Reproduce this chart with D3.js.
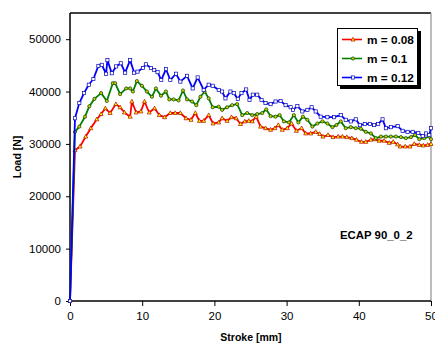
<!DOCTYPE html>
<html><head><meta charset="utf-8">
<script src="https://cdn.jsdelivr.net/npm/d3@7"></script>
<style>body{margin:0;background:#fff}svg{display:block}text{font-family:Arial,"Liberation Sans",sans-serif}</style>
</head><body><svg id="c" width="435" height="345"></svg>
<script>
const xTicks=[0,10,20,30,40,50];
const yTicks=[0,10000,20000,30000,40000,50000];
const seriesNames=["m = 0.08","m = 0.1","m = 0.12"];
const strokeA=[0,0.69,1.39,2.18,2.88,3.71,4.31,4.90,5.56,6.35,6.94,7.54,8.33,8.57,9.17,9.82,10.32,10.97,11.71,12.36,13.10,13.89,14.58,15.28,16.07,16.76,17.36,17.92,18.51,19.21,19.82,20.60,21.07,21.76,22.36,23.01,23.61,24.21,24.76,25.24,25.79,26.39,27.08,27.78,28.38,28.85,29.40,30.10,30.69,31.35,32.08,32.64,33.33,34.03,34.58,35.04,35.74,36.43,37.13,37.74,38.33,39.03,39.68,40.38,40.97,41.67,42.26,42.82,43.51,44.21,44.76,45.38,45.74,46.43,47.08,47.68,48.38,48.93,49.54,50.0];
const loadA=[0,28.8,29.5,31.4,33.0,34.7,35.7,36.8,35.9,37.6,37.0,36.0,35.2,38.1,36.0,36.2,38.1,36.0,36.8,35.5,35.1,35.9,35.9,35.9,34.9,34.6,35.9,34.4,34.4,35.5,33.9,34.1,34.9,34.4,35.1,34.9,33.8,34.3,34.4,34.3,35.2,33.3,33.0,32.7,33.0,33.6,32.7,33.0,33.9,32.5,33.0,32.0,32.0,32.3,31.9,31.4,31.7,31.3,31.4,31.4,31.3,31.1,30.8,30.4,30.4,30.8,30.9,30.6,30.6,30.2,30.4,29.9,29.5,29.5,29.5,30.0,29.8,29.7,29.8,30.0];
const strokeB=[0,0.69,1.29,2.08,2.68,3.38,4.31,5.10,5.93,6.25,6.94,7.78,8.33,8.71,9.26,9.96,10.65,11.35,11.90,12.60,13.29,13.75,14.35,15.04,15.65,16.21,16.90,17.50,18.06,18.65,19.21,19.76,20.60,21.07,21.76,22.46,23.15,23.85,24.54,25.24,25.93,26.63,27.18,27.78,28.47,29.03,29.63,30.32,31.01,31.63,32.26,32.88,33.57,34.26,34.96,35.65,36.35,36.90,37.50,38.19,38.89,39.58,40.28,40.97,41.67,42.36,43.06,43.75,44.44,45.14,45.83,46.53,47.22,47.78,48.38,49.07,49.76,50.0];
const loadB=[0,32.3,33.3,35.2,37.2,38.6,39.7,38.2,41.6,41.6,39.5,40.6,40.6,40.0,42.0,41.1,40.0,39.0,40.6,39.2,40.0,38.5,38.5,38.3,40.2,38.5,38.1,37.4,39.0,40.0,38.7,37.0,37.1,36.5,37.0,37.4,37.6,35.5,35.9,35.5,35.7,35.9,36.6,35.3,35.2,35.5,34.3,34.1,35.5,34.1,35.2,34.6,33.3,33.9,34.3,33.9,33.2,33.6,34.3,33.0,33.2,33.0,32.9,32.3,32.0,31.1,31.4,31.4,31.4,31.4,31.3,31.1,31.3,31.7,30.9,31.1,31.4,30.9];
const strokeC=[0,0.69,1.29,1.94,2.60,3.24,3.93,4.40,5.00,5.18,5.79,6.39,7.04,7.64,8.33,8.89,9.35,10.10,10.51,11.21,11.67,12.13,12.64,13.29,13.89,14.68,15.28,16.21,16.99,17.68,18.51,19.21,19.76,20.60,21.07,21.53,22.22,22.68,23.24,23.75,24.40,24.86,25.32,25.93,26.53,27.08,27.78,28.47,29.17,29.86,30.56,30.88,31.49,32.18,32.88,33.47,34.03,34.72,35.65,36.57,37.50,38.19,38.89,39.58,40.14,40.83,41.53,42.13,42.68,43.29,43.75,44.44,45.38,46.07,46.76,47.46,48.24,48.85,49.31,49.76,50.0];
const loadC=[0,34.9,37.8,39.7,41.3,42.4,44.9,45.1,43.4,46.0,43.5,44.8,45.4,43.6,46.0,43.6,43.8,44.5,45.2,44.5,44.1,43.7,42.2,44.3,42.2,43.4,41.9,43.0,40.6,42.7,40.3,41.3,41.1,40.3,40.0,38.7,40.0,39.7,38.6,39.7,40.4,38.4,39.4,39.4,38.4,37.8,37.6,38.1,38.2,37.4,37.0,36.5,37.2,36.2,36.5,37.0,36.2,35.2,35.1,35.1,35.5,34.6,34.3,34.7,33.6,33.8,33.8,33.6,33.8,34.7,33.0,33.2,33.4,32.5,32.3,32.3,32.1,31.5,32.0,31.7,33.0];

const svg=d3.select("#c");
const L=70,R=431,T=13,B=301;
const x=d3.scaleLinear().domain([0,50]).range([L,R]);
const y=d3.scaleLinear().domain([0,55000]).range([B,T]);

svg.append("line").attr("x1",L).attr("x2",R).attr("y1",T).attr("y2",T).attr("stroke","#000").attr("stroke-width",1.3);
svg.append("line").attr("x1",R).attr("x2",R).attr("y1",T).attr("y2",B).attr("stroke","#999").attr("stroke-width",1.3);

const gx=svg.append("g").attr("transform",`translate(0,${B})`)
  .call(d3.axisBottom(x).tickValues(xTicks).tickFormat(d3.format("d")).tickSize(5).tickPadding(6).tickSizeOuter(0));
const gy=svg.append("g").attr("transform",`translate(${L},0)`)
  .call(d3.axisLeft(y).tickValues(yTicks).tickFormat(d3.format("d")).tickSize(4).tickPadding(5).tickSizeOuter(0));
[gx,gy].forEach(g=>{g.select(".domain").attr("stroke","#000").attr("stroke-width",1.5);
  g.selectAll(".tick line").attr("stroke","#000");
  g.selectAll("text").attr("font-size","11.5px").attr("fill","#000").attr("font-family","Arial,'Liberation Sans',sans-serif");});
gy.select(".domain").attr("d",`M0,${T}V${B}`);
gx.select(".domain").attr("d",`M${L},0H${R}`);

const series=[
 {name:seriesNames[0],xs:strokeA,ys:loadA,color:"#ff0000",fill:"#ffff00",stroke:"#b00000",sym:"tri"},
 {name:seriesNames[1],xs:strokeB,ys:loadB,color:"#008000",fill:"#cccc00",stroke:"#004000",sym:"circ"},
 {name:seriesNames[2],xs:strokeC,ys:loadC,color:"#0000ff",fill:"#ffffff",stroke:"#0000bb",sym:"sq"}];

function marker(g,s,cx,cy){
  if(s.sym==="tri") g.append("path").attr("d",`M${cx},${cy-2.2}L${cx+2},${cy+1.5}L${cx-2},${cy+1.5}Z`).attr("fill",s.fill).attr("stroke",s.stroke).attr("stroke-width",0.7);
  else if(s.sym==="circ") g.append("circle").attr("cx",cx).attr("cy",cy).attr("r",1.6).attr("fill",s.fill).attr("stroke",s.stroke).attr("stroke-width",0.7);
  else g.append("rect").attr("x",cx-1.6).attr("y",cy-1.6).attr("width",3.2).attr("height",3.2).attr("fill",s.fill).attr("stroke",s.stroke).attr("stroke-width",0.7);
}
const line=d3.line().x(d=>x(d[0])).y(d=>y(d[1]*1000));
series.forEach(s=>{
  const pts=s.xs.map((v,i)=>[v,s.ys[i]]);
  const g=svg.append("g");
  g.append("path").attr("d",line(pts)).attr("fill","none").attr("stroke",s.color).attr("stroke-width",1.8).attr("stroke-linejoin","round");
  pts.forEach(p=>marker(g,s,x(p[0]),y(p[1]*1000)));
});

svg.append("text").attr("x",251).attr("y",341).attr("text-anchor","middle").attr("font-size","10.5px").attr("font-weight","bold").text("Stroke [mm]");
svg.append("text").attr("transform","translate(21,157) rotate(-90)").attr("text-anchor","middle").attr("font-size","10.5px").attr("font-weight","bold").text("Load [N]");
svg.append("text").attr("x",340).attr("y",239).attr("font-size","11.4px").attr("font-weight","bold").text("ECAP 90_0_2");

const lg=svg.append("g");
lg.append("rect").attr("x",340).attr("y",31).attr("width",81).attr("height",58).attr("fill","#000");
lg.append("rect").attr("x",337.5).attr("y",28.5).attr("width",80).attr("height",57).attr("fill","#fff").attr("stroke","#000").attr("stroke-width",1);
series.forEach((s,i)=>{
  const yy=[39.5,58.5,77.5][i];
  lg.append("line").attr("x1",342).attr("x2",362).attr("y1",yy).attr("y2",yy).attr("stroke",s.color).attr("stroke-width",1.6);
  marker(lg,s,353,yy);
  lg.append("text").attr("x",367).attr("y",yy+4).attr("font-size","11.8px").attr("font-weight","bold").text(s.name);
});
</script></body></html>
